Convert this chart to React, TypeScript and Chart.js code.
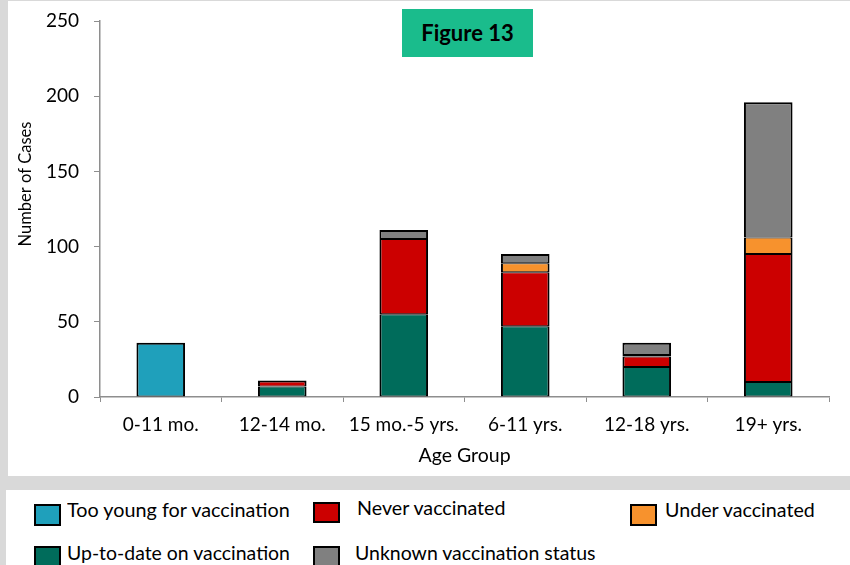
import React, { useEffect, useLayoutEffect, useRef } from 'react';
import { Chart, registerables } from 'chart.js';

Chart.register(...registerables);

// ---- Data ----
const categories = ['0-11 mo.', '12-14 mo.', '15 mo.-5 yrs.', '6-11 yrs.', '12-18 yrs.', '19+ yrs.'];
const tooYoung = [36, 0, 0, 0, 0, 0];
const upToDate = [0, 7, 55, 47, 20, 10];
const neverVaccinated = [0, 4, 50, 36, 7, 85];
const underVaccinated = [0, 0, 0, 6, 1, 11];
const unknownStatus = [0, 0, 6, 6, 8, 90];
const yMin = 0;
const yMax = 250;
const yStep = 50;
const xTitle = 'Age Group';
const yTitle = 'Number of Cases';
const figureLabel = 'Figure 13';

const seriesNames = [
  'Too young for vaccination',
  'Up-to-date on vaccination',
  'Never vaccinated',
  'Under vaccinated',
  'Unknown vaccination status',
];
const seriesColors = ['#1fa0bb', '#006c5b', '#cc0000', '#f7922d', '#808080'];
const seriesData = [tooYoung, upToDate, neverVaccinated, underVaccinated, unknownStatus];

// legend layout (coordinates relative to legend box)
const legendItems = [
  { series: 0, bx: 28, by: 14, bh: 22, tx: 61, ty: 10, tw: 223 },
  { series: 2, bx: 307, by: 12, bh: 21, tx: 351, ty: 8, tw: 148 },
  { series: 3, bx: 624, by: 14, bh: 22, tx: 659, ty: 10, tw: 150 },
  { series: 1, bx: 28, by: 56, bh: 22, tx: 61, ty: 53, tw: 223 },
  { series: 4, bx: 307, by: 56, bh: 22, tx: 349, ty: 53, tw: 241 },
];

const FONT = 'Lato, "Open Sans", sans-serif';
const AXIS_COLOR = '#8e8e8e';

function isTopSegment(datasetIndex: number, index: number) {
  for (let k = datasetIndex + 1; k < seriesData.length; k++) {
    if ((seriesData[k][index] || 0) > 0) return false;
  }
  return true;
}

export default function App() {
  const canvasRef = useRef<HTMLCanvasElement | null>(null);
  const textRefs = useRef<(HTMLSpanElement | null)[]>([]);

  useLayoutEffect(() => {
    const fit = () => {
      legendItems.forEach((it, i) => {
        const el = textRefs.current[i];
        if (el) {
          el.style.transform = 'none';
          const w = el.offsetWidth;
          if (w > 0) el.style.transform = `scaleX(${it.tw / w})`;
        }
      });
    };
    fit();
    if ((document as any).fonts) {
      (document as any).fonts.ready.then(fit);
    }
  }, []);

  useEffect(() => {
    let chart: Chart | null = null;
    let cancelled = false;

    const yTitlePlugin = {
      id: 'yTitleDraw',
      afterDraw(c: any) {
        const ctx = c.ctx as CanvasRenderingContext2D;
        ctx.save();
        ctx.translate(18, 183);
        ctx.rotate(-Math.PI / 2);
        ctx.font = `16.5px ${FONT}`;
        ctx.fillStyle = '#000';
        ctx.textAlign = 'center';
        ctx.textBaseline = 'middle';
        ctx.fillText(yTitle, 0, 0);
        ctx.restore();
      },
    };

    const build = () => {
      if (cancelled || !canvasRef.current) return;
      chart = new Chart(canvasRef.current, {
        type: 'bar',
        data: {
          labels: categories,
          datasets: seriesData.map((d, i) => ({
            label: seriesNames[i],
            data: d,
            backgroundColor: seriesColors[i],
            borderColor: '#000',
            borderWidth: (ctx: any) => ({
              top: isTopSegment(ctx.datasetIndex, ctx.dataIndex) ? 2 : 1,
              bottom: 1,
              left: 2,
              right: 2,
            }),
            borderSkipped: false,
            inflateAmount: 0,
            categoryPercentage: 1,
            barPercentage: 0.4,
          })),
        },
        options: {
          animation: false,
          responsive: false,
          devicePixelRatio: 1,
          layout: { padding: { top: 20, right: 21, left: 0, bottom: 0 } },
          plugins: {
            legend: { display: false },
            tooltip: { enabled: false },
            title: { display: false },
          },
          scales: {
            x: {
              stacked: true,
              grid: {
                display: true,
                drawOnChartArea: false,
                drawTicks: true,
                tickLength: 5,
                color: AXIS_COLOR,
                offset: true,
              },
              border: { color: AXIS_COLOR, width: 1.5 },
              ticks: {
                color: '#000',
                font: { family: FONT, size: 19 },
                padding: 11,
                maxRotation: 0,
                autoSkip: false,
              },
              title: {
                display: true,
                text: xTitle,
                color: '#000',
                font: { family: FONT, size: 19.5 },
                padding: { top: 0, bottom: 9 },
              },
              afterFit: (s: any) => {
                s.height = 79;
                s.paddingLeft = 0;
                s.paddingRight = 0;
              },
            },
            y: {
              stacked: true,
              min: yMin,
              max: yMax,
              ticks: {
                stepSize: yStep,
                color: '#000',
                font: { family: FONT, size: 19 },
                padding: 15,
              },
              grid: {
                drawOnChartArea: false,
                drawTicks: true,
                tickLength: 6,
                color: AXIS_COLOR,
              },
              border: { color: AXIS_COLOR, width: 1.5 },
              afterFit: (s: any) => {
                s.width = 92;
                s.paddingTop = 0;
                s.paddingBottom = 0;
              },
            },
          },
        },
        plugins: [yTitlePlugin],
      } as any);
    };

    const fonts = (document as any).fonts;
    if (fonts && fonts.load) {
      Promise.all([fonts.load(`19px Lato`), fonts.load(`bold 22px Lato`)])
        .catch(() => null)
        .then(build);
    } else {
      build();
    }

    return () => {
      cancelled = true;
      if (chart) chart.destroy();
    };
  }, []);

  return (
    <div
      style={{
        position: 'fixed',
        left: 0,
        top: 0,
        width: 850,
        height: 565,
        background: '#d9d9d9',
        overflow: 'hidden',
        fontFamily: FONT,
      }}
    >
      <div
        style={{
          position: 'absolute',
          left: 8,
          top: 1,
          width: 842,
          height: 475,
          background: '#ffffff',
        }}
      >
        <canvas ref={canvasRef} width={842} height={475} style={{ display: 'block' }} />
        <div
          style={{
            position: 'absolute',
            left: 394,
            top: 8,
            width: 131,
            height: 48,
            background: '#1abc8c',
            display: 'flex',
            alignItems: 'center',
            justifyContent: 'center',
          }}
        >
          <span
            style={{
              fontWeight: 'bold',
              fontSize: 22,
              color: '#000',
              whiteSpace: 'nowrap',
              lineHeight: 1,
            }}
          >
            {figureLabel}
          </span>
        </div>
      </div>
      <div
        style={{
          position: 'absolute',
          left: 6,
          top: 490,
          width: 844,
          height: 80,
          background: '#ffffff',
          overflow: 'hidden',
        }}
      >
        {legendItems.map((it, i) => (
          <React.Fragment key={i}>
            <div
              style={{
                position: 'absolute',
                left: it.bx,
                top: it.by,
                width: 27,
                height: it.bh,
                boxSizing: 'border-box',
                border: '2px solid #000',
                background: seriesColors[it.series],
              }}
            />
            <span
              ref={(el) => {
                textRefs.current[i] = el;
              }}
              style={{
                position: 'absolute',
                left: it.tx,
                top: it.ty,
                fontSize: 19,
                lineHeight: '19px',
                color: '#000',
                whiteSpace: 'nowrap',
                display: 'inline-block',
                transformOrigin: 'left top',
              }}
            >
              {seriesNames[it.series]}
            </span>
          </React.Fragment>
        ))}
      </div>
    </div>
  );
}
